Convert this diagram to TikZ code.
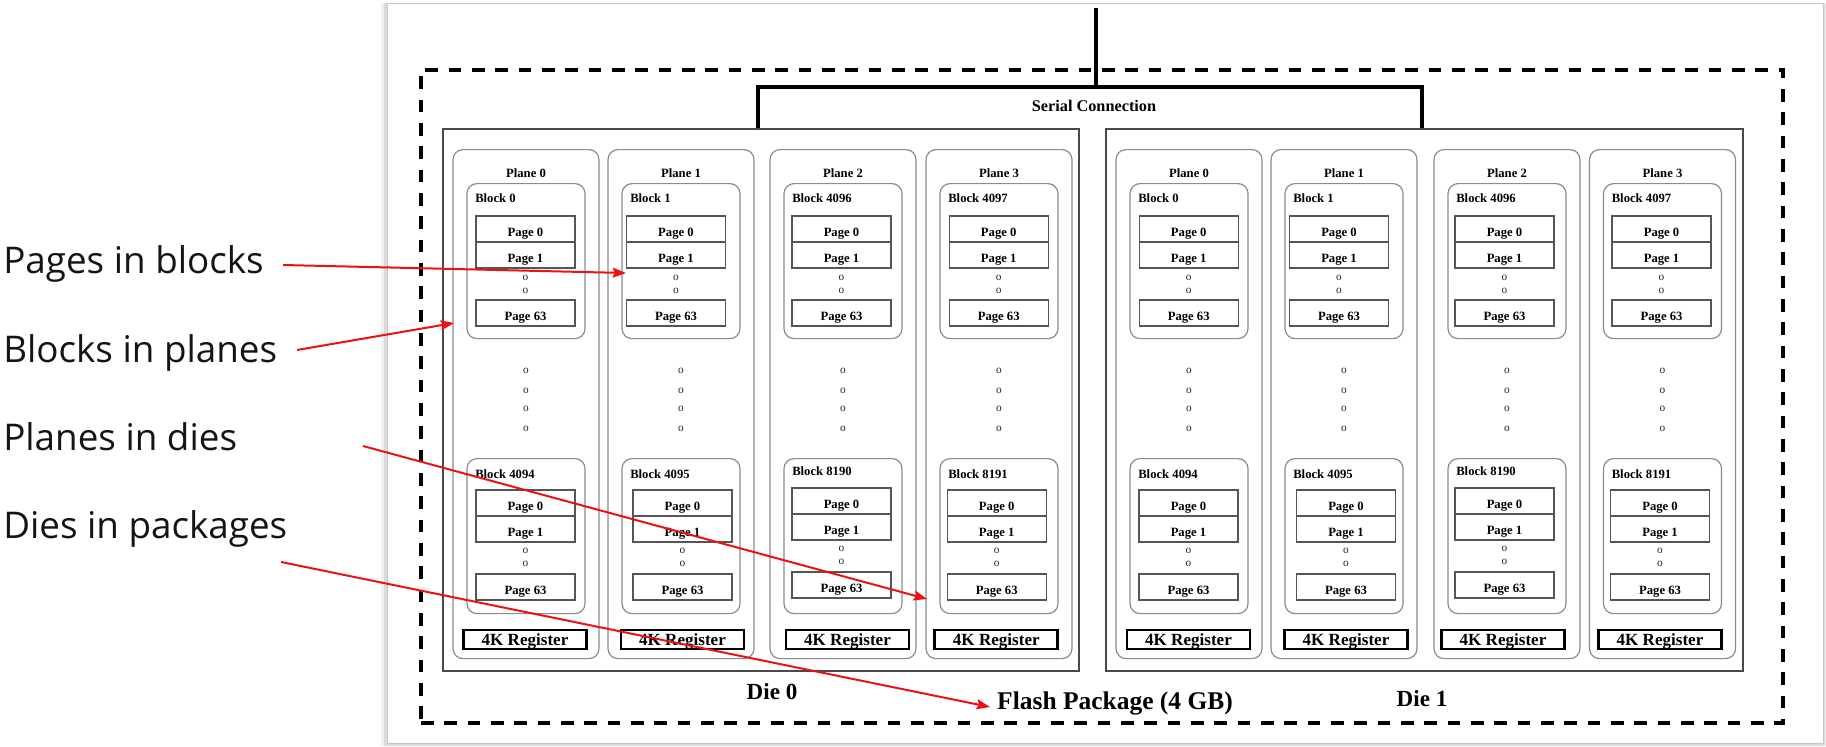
\documentclass[tikz,border=0pt]{standalone}
\usepackage{fontspec}
\setmainfont{Liberation Serif}
\newfontfamily\annfont{Open Sans}
\usetikzlibrary{arrows.meta}
\definecolor{boxgray}{HTML}{8C8C8C}
\definecolor{pagegray}{HTML}{555555}
\definecolor{diegray}{HTML}{4A4A4A}
\definecolor{annred}{HTML}{EE1111}
\begin{document}
\begin{tikzpicture}[x=0.75pt,y=-0.75pt,
  lbl/.style={font=\fontsize{9.5}{11}\selectfont\bfseries, inner sep=0pt},
  dotl/.style={font=\fontsize{8.5}{9}\selectfont, inner sep=0pt, text=black!85},
  planebox/.style={draw=boxgray, line width=0.9pt, rounded corners=7.5pt, minimum width=109.5pt, minimum height=381.75pt, inner sep=0pt, anchor=north},
  blockbox/.style={draw=boxgray, line width=0.9pt, rounded corners=7.5pt, minimum width=88.5pt, minimum height=116.25pt, inner sep=0pt, anchor=north},
  pagebox/.style={draw=pagegray, line width=0.9pt, minimum width=74.25pt, minimum height=19.5pt, inner sep=0pt, text height=10.6pt, text depth=0pt, font=\fontsize{9.5}{11}\selectfont\bfseries},
  regbox/.style={draw=black, line width=2pt, minimum width=92.25pt, minimum height=14.25pt, inner sep=0pt, text height=8.7pt, text depth=0pt, font=\fontsize{12.8}{14}\selectfont\bfseries},
  diebox/.style={draw=diegray, line width=1.3pt, inner sep=0pt, minimum height=406.5pt},
  pkgbox/.style={draw=black, line width=3pt, dash pattern=on 9.5pt off 8pt, inner sep=0pt, minimum width=1021.5pt, minimum height=489.75pt},
  serial/.style={draw=black, line width=2.6pt},
  biglbl/.style={font=\fontsize{17.3}{20}\selectfont\bfseries, inner sep=0pt},
  ann/.style={font=\annfont\fontsize{27.6}{32}\selectfont, inner sep=0pt, text=black!92, anchor=base west},
  redarrow/.style={draw=annred, line width=1.5pt, -{Stealth[length=10pt,width=7.5pt,inset=1.5pt]}}
]
\useasboundingbox (0,0) rectangle (1826,746);
% paper with shadow
\fill[black!6] (381,3) rectangle (1826,746);
\fill[black!14] (384,3) rectangle (1825,745.5);
\fill[white, draw=black!22, line width=0.5pt] (387,3) rectangle (1823,743);

% package
\node[pkgbox] (pkg) at (1102,396.5) {};
% dies
\node[diebox, minimum width=477pt] (die0) at (761,400) {};
\node[diebox, minimum width=477.75pt] (die1) at (1424.5,400) {};

% serial connection
\coordinate (top) at (1096,8);
\coordinate (sl) at (758,87);
\coordinate (sr) at (1422,87);
\draw[serial] (top) -- (top |- sl);
\draw[serial] (die0.north -| sl) -- (sl) -- (sr) -- (die1.north -| sr);
\node[font=\fontsize{12.2}{14}\selectfont\bfseries, inner sep=0pt] (sctext) at (1094,106) {Serial Connection};

% planes
\foreach \cx/\p/\tb/\bb/\upc/\lpc/\ls/\rc [count=\i] in {
  526/0/0/4094/525.5/525.5/0/525,
  681/1/1/4095/676/682.5/0/682.5,
  843/2/4096/8190/841.5/841.5/-2/847.5,
  999/3/4097/8191/998.7/996.7/0/996.3,
  1189/0/0/4094/1188.7/1188.5/0/1188.5,
  1344/1/1/4095/1339/1346/0/1346,
  1507/2/4096/8190/1504.5/1504.5/-2/1503,
  1662.5/3/4097/8191/1661.5/1660/0/1660}{
  \node[planebox] (pl\i) at (\cx,149) {};
  \node[lbl] (plt\i) at (\cx,173) {Plane \p};
  % upper block
  \node[blockbox] (bu\i) at (\cx,183) {};
  \node[lbl, anchor=west] (but\i) at ({\cx-51},198) {Block \tb};
  \node[pagebox] (bua\i) at (\upc,229) {Page 0};
  \node[pagebox] (bub\i) at (\upc,255) {Page 1};
  \node[dotl] (bud\i) at (\upc,278) {o};
  \node[dotl] (bue\i) at (\upc,291) {o};
  \node[pagebox] (buc\i) at (\upc,313) {Page 63};
  % dots between blocks
  \node[dotl] (da\i) at (\cx,371) {o};
  \node[dotl] (db\i) at (\cx,391) {o};
  \node[dotl] (dc\i) at (\cx,409) {o};
  \node[dotl] (dd\i) at (\cx,429) {o};
  % lower block
  \node[blockbox] (bl\i) at (\cx,458) {};
  \node[lbl, anchor=west] (blt\i) at ({\cx-51},{474+1.5*\ls}) {Block \bb};
  \node[pagebox] (bla\i) at (\lpc,{503+\ls}) {Page 0};
  \node[pagebox] (blb\i) at (\lpc,{529+\ls}) {Page 1};
  \node[dotl] (bld\i) at (\lpc,{551+\ls}) {o};
  \node[dotl] (ble\i) at (\lpc,{564+\ls}) {o};
  \node[pagebox] (blc\i) at (\lpc,{587+\ls}) {Page 63};
  % register
  \node[regbox] (rg\i) at (\rc,639.5) {4K Register};
}

% labels
\node[biglbl] (d0lbl) at (772,692) {Die 0};
\node[biglbl] (d1lbl) at (1422,699) {Die 1};
\node[font=\fontsize{19.1}{22}\selectfont\bfseries, inner sep=0pt] (pkglbl) at (1115,703) {Flash Package (4 GB)};

% annotations
\node[ann] (an1) at (3,273) {Pages in blocks};
\node[ann] (an2) at (3,362) {Blocks in planes};
\node[ann] (an3) at (3,450) {Planes in dies};
\node[ann] (an4) at (3,538) {Dies in packages};

\coordinate (a1s) at (283,265);
\coordinate (a1e) at (626,273);
\coordinate (a2s) at (297,350);
\coordinate (a2e) at (454,323);
\coordinate (a3s) at (363,446);
\coordinate (a3e) at (927,599);
\coordinate (a4s) at (281,562);
\coordinate (a4e) at (990,707);
\draw[redarrow] (a1s) -- (a1e);
\draw[redarrow] (a2s) -- (a2e);
\draw[redarrow] (a3s) -- (a3e);
\draw[redarrow] (a4s) -- (a4e);
\end{tikzpicture}
\end{document}
